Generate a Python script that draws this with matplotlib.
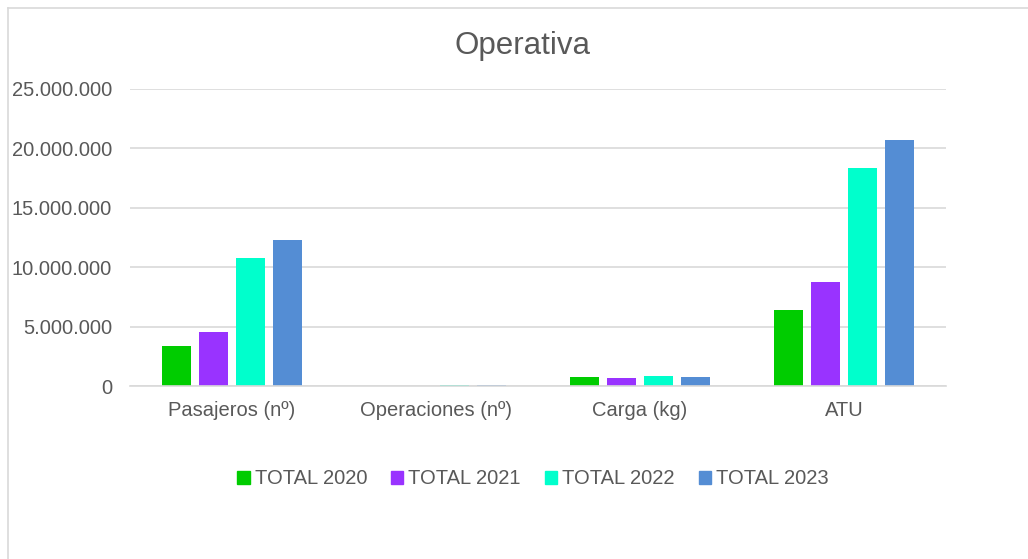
import matplotlib
matplotlib.use("Agg")
import matplotlib.pyplot as plt
import numpy as np
from matplotlib.ticker import FuncFormatter
from matplotlib.lines import Line2D

plt.rcParams['font.family'] = ['Liberation Sans', 'DejaVu Sans']

categories = ["Pasajeros (nº)", "Operaciones (nº)", "Carga (kg)", "ATU"]
series_names = ["TOTAL 2020", "TOTAL 2021", "TOTAL 2022", "TOTAL 2023"]
total_2020 = [3340000, 20000, 760000, 6370000]
total_2021 = [4550000, 30000, 670000, 8750000]
total_2022 = [10770000, 60000, 840000, 18350000]
total_2023 = [12290000, 75000, 760000, 20680000]
colors = ["#00CC00", "#9933FF", "#00FFCC", "#548DD4"]

series = [total_2020, total_2021, total_2022, total_2023]

fig = plt.figure(figsize=(10.28, 5.59), dpi=100)
ax = fig.add_axes([130/1028, 1-386/559, 816/1028, 297/559])

x = np.arange(len(categories))
width = 29/204
step = 37/204
offsets = (np.arange(4) - 1.5) * step
for i, (vals, name, c) in enumerate(zip(series, series_names, colors)):
    ax.bar(x + offsets[i], vals, width=width, color=c, label=name, zorder=3)

ax.set_xlim(-0.5, 3.5)
ax.set_ylim(0, 25000000)
ax.set_yticks(np.arange(0, 25000001, 5000000))
ax.yaxis.set_major_formatter(FuncFormatter(lambda v, p: f"{int(v):,}".replace(",", ".")))
ax.set_xticks(x)
ax.set_xticklabels(categories)
ax.grid(axis='y', color='#D9D9D9', linewidth=1.2, zorder=0)
for s in ['top', 'right', 'left']:
    ax.spines[s].set_visible(False)
ax.spines['bottom'].set_color('#D9D9D9')
ax.spines['bottom'].set_linewidth(1.2)
ax.spines['bottom'].set_zorder(4)
ax.tick_params(axis='both', length=0, labelsize=14.5, colors='#595959')
ax.tick_params(axis='x', pad=11)
ax.tick_params(axis='y', pad=13)

fig.text(0.508, 1-46/559, "Operativa", ha='center', va='center', fontsize=22.5, color='#595959')

handles = [plt.Rectangle((0, 0), 1, 1, color=c) for c in colors]
fig.legend(handles, series_names, loc='center', bbox_to_anchor=(533/1028, 1-479/559),
           ncol=4, frameon=False, fontsize=14.5, labelcolor='#595959',
           handlelength=0.6, handleheight=0.6, handletextpad=0.25, columnspacing=1.2)

fig.add_artist(Line2D([7.5/1028, 7.5/1028], [0, 1-7.5/559], transform=fig.transFigure, color='#D9D9D9', linewidth=1.2))
fig.add_artist(Line2D([7.5/1028, 1], [1-7.5/559, 1-7.5/559], transform=fig.transFigure, color='#D9D9D9', linewidth=1.2))

fig.savefig("out.png", dpi=100, facecolor='white')
